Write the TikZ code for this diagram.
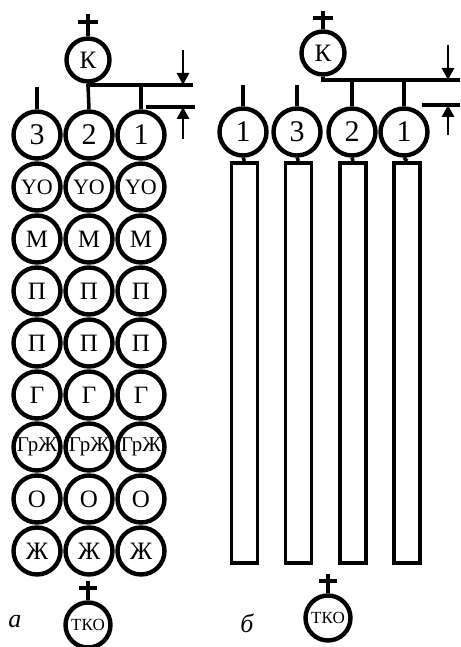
\documentclass[tikz,border=0pt]{standalone}
\usepackage{fontspec}
\setmainfont{Liberation Serif}
\usetikzlibrary{arrows.meta,calc}
\begin{document}
\begin{tikzpicture}[x=1pt,y=1pt,
  cell/.style={circle,draw,line width=4.4pt,minimum size=47pt,inner sep=0pt,font=\fontsize{25}{25}\selectfont},
  numcell/.style={cell,font=\fontsize{30}{30}\selectfont},
  smallcell/.style={cell,font=\fontsize{22}{22}\selectfont},
  grcell/.style={cell,font=\fontsize{21}{21}\selectfont},
  topcell/.style={circle,draw,line width=4.4pt,minimum size=43pt,inner sep=0pt,font=\fontsize{25}{25}\selectfont},
  tkocell/.style={circle,draw,line width=4.4pt,minimum size=45pt,inner sep=0pt,font=\fontsize{17}{17}\selectfont},
  pipe/.style={line width=3.5pt},
  bar/.style={line width=4pt},
  flow/.style={line width=2.8pt,-{Triangle[length=12pt,width=12pt]}},
  tube/.style={draw,line width=3.6pt,minimum width=26pt,minimum height=400pt,inner sep=0pt,anchor=north},
  lbl/.style={font=\fontsize{26}{26}\selectfont\itshape}
]
\useasboundingbox (0,0) rectangle (460,647);
% ---------- panel a ----------
\node[topcell] (Ka) at (88,587) {К};
\coordinate (Kat) at (88,633);
\draw[pipe] (Kat) -- (Ka.north);
\draw[bar] (78,625) -- (98,625);
\node[numcell] (a3) at (37,512) {3};
\node[numcell] (a2) at (89,512) {2};
\node[numcell] (a1) at (141,512) {1};
\foreach \r/\y/\t/\s in {2/460/YO/smallcell,3/408/М/cell,4/356/П/cell,5/304/П/cell,6/252/Г/cell,7/200/ГрЖ/grcell,8/148/О/cell,9/96/Ж/cell}{
  \node[\s] (aA\r) at (37,\y) {\t};
  \node[\s] (aB\r) at (89,\y) {\t};
  \node[\s] (aC\r) at (141,\y) {\t};
}
% header pipes
\coordinate (hA1) at (88,562);
\coordinate (hA2) at (193,562);
\coordinate (hB1) at (146,540);
\coordinate (hB2) at (195,540);
\coordinate (stubA) at (37,560);
\draw[pipe] (Ka.south) -- (hA1) -- (hA2);
\draw[pipe] (hA1) -- (a2.north);
\draw[pipe] (a1.north |- hA1) -- (a1.north);
\draw[pipe] (hB1) -- (hB2);
\draw[pipe] (stubA) -- (a3.north);
\coordinate (inA) at (183,597);
\coordinate (outA) at (183,508);
\draw[flow] (inA) -- (inA |- hA1);
\draw[flow] (outA) -- (outA |- hB1);
% TKO a
\node[tkocell] (Ta) at (88,22) {ТКО};
\coordinate (Tat) at (88,66);
\draw[pipe] (Tat) -- (Ta.north);
\draw[bar] (79,59) -- (97,59);
\node[lbl] (la) at (15,25) {а};
% ---------- panel b ----------
\node[topcell] (Kb) at (323,594) {К};
\coordinate (Kbt) at (323,636);
\draw[pipe] (Kbt) -- (Kb.north);
\draw[bar] (313,629) -- (333,629);
\node[numcell] (b1l) at (243,515) {1};
\node[numcell] (b3) at (297,515) {3};
\node[numcell] (b2) at (352,515) {2};
\node[numcell] (b1) at (404,515) {1};
\coordinate (hC1) at (323,567);
\coordinate (hC2) at (460,567);
\coordinate (hD1) at (422,542);
\coordinate (hD2) at (460,542);
\draw[pipe] (Kb.south) -- (hC1) -- (hC2);
\draw[pipe] (b2.north |- hC1) -- (b2.north);
\draw[pipe] (b1.north |- hC1) -- (b1.north);
\draw[pipe] (hD1) -- (hD2);
\coordinate (stubB1) at (243,562);
\coordinate (stubB2) at (297,562);
\draw[pipe] (stubB1) -- (b1l.north);
\draw[pipe] (stubB2) -- (b3.north);
\coordinate (inB) at (448,602);
\coordinate (outB) at (448,512);
\draw[flow] (inB) -- (inB |- hC1);
\draw[flow] (outB) -- (outB |- hD1);
% tubes
\node[tube] (t1) at (244.5,486) {};
\node[tube] (t2) at (298.5,486) {};
\node[tube] (t3) at (353,486) {};
\node[tube] (t4) at (407,486) {};
\draw[pipe] (b1l.south) -- (t1.north);
\draw[pipe] (b3.south) -- (t2.north);
\draw[pipe] (b2.south) -- (t3.north);
\draw[pipe] (b1.south) -- (t4.north);
% TKO b
\node[tkocell] (Tb) at (328,29) {ТКО};
\coordinate (Tbt) at (328,73);
\draw[pipe] (Tbt) -- (Tb.north);
\draw[bar] (319,66) -- (337,66);
\node[lbl] (lb) at (247,24) {б};
\end{tikzpicture}
\end{document}
